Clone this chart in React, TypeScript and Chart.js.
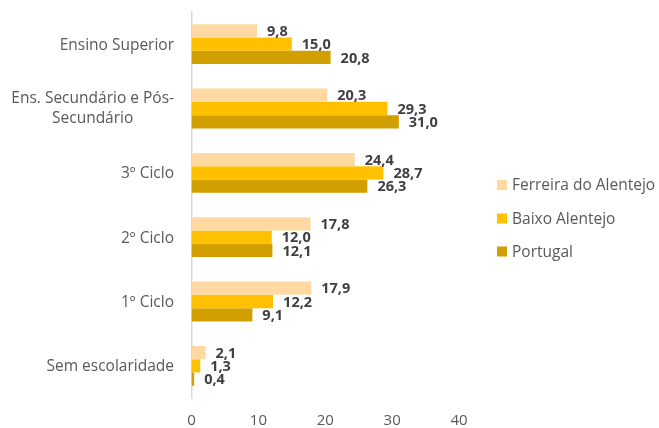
import React, { useEffect, useRef } from "react";
import { Chart, registerables } from "chart.js";

Chart.register(...registerables);

const categories: string[][] = [
  ["Ensino Superior"],
  ["Ens. Secundário e Pós-", "Secundário"],
  ["3º Ciclo"],
  ["2º Ciclo"],
  ["1º Ciclo"],
  ["Sem escolaridade"],
];
const seriesNames = ["Ferreira do Alentejo", "Baixo Alentejo", "Portugal"];
const ferreira = [9.8, 20.3, 24.4, 17.8, 17.9, 2.1];
const baixo = [15.0, 29.3, 28.7, 12.0, 12.2, 1.3];
const portugal = [20.8, 31.0, 26.3, 12.1, 9.1, 0.4];
const colors = ["#FFD9A1", "#FFC000", "#D19F00"];
const xTicks = [0, 10, 20, 30, 40];

const FONT = "'Open Sans', sans-serif";

const drawPlugin = {
  id: "customDraw",
  afterDraw(chart: any) {
    const ctx = chart.ctx;
    const yScale = chart.scales.y;
    ctx.save();
    // category labels
    ctx.font = `15.5px ${FONT}`;
    ctx.fillStyle = "#595959";
    ctx.textBaseline = "middle";
    categories.forEach((lines, i) => {
      const cy = yScale.getPixelForValue(i);
      const right = 174;
      const lh = 20;
      if (lines.length === 1) {
        ctx.textAlign = "right";
        ctx.fillText(lines[0], right, cy + 1);
      } else {
        const maxW = Math.max(...lines.map((l) => ctx.measureText(l).width));
        const cx = right - maxW / 2;
        ctx.textAlign = "center";
        lines.forEach((l, k) => {
          ctx.fillText(l, cx, cy + (k - (lines.length - 1) / 2) * lh);
        });
      }
    });
    // data labels
    ctx.font = `bold 14.5px ${FONT}`;
    ctx.fillStyle = "#404040";
    ctx.textAlign = "left";
    chart.data.datasets.forEach((ds: any, di: number) => {
      const meta = chart.getDatasetMeta(di);
      meta.data.forEach((bar: any, i: number) => {
        const v = ds.data[i] as number;
        ctx.fillText(v.toFixed(1).replace(".", ","), bar.x + 10, bar.y + 1);
      });
    });
    // legend
    ctx.font = `15.5px ${FONT}`;
    const ly = [185, 218.5, 251.5];
    seriesNames.forEach((n, i) => {
      ctx.fillStyle = colors[i];
      ctx.fillRect(497, ly[i] - 5, 10, 10);
      ctx.fillStyle = "#595959";
      ctx.textAlign = "left";
      ctx.fillText(n, 512, ly[i] + 1);
    });
    ctx.restore();
  },
};

export default function App() {
  const ref = useRef<HTMLCanvasElement>(null);
  useEffect(() => {
    if (!ref.current) return;
    const chart = new Chart(ref.current, {
      type: "bar",
      data: {
        labels: categories.map((c) => c.join(" ")),
        datasets: [ferreira, baixo, portugal].map((d, i) => ({
          label: seriesNames[i],
          data: d,
          backgroundColor: colors[i],
          borderWidth: 0,
          categoryPercentage: 0.62,
          barPercentage: 1,
        })),
      },
      options: {
        indexAxis: "y",
        animation: false,
        responsive: false,
        layout: { padding: { left: 191.5, right: 200, top: 12, bottom: 0 } },
        plugins: { legend: { display: false }, tooltip: { enabled: false } },
        scales: {
          x: {
            min: 0,
            max: 40,
            afterBuildTicks: (s: any) => {
              s.ticks = xTicks.map((v) => ({ value: v }));
            },
            afterFit: (s: any) => {
              s.height = 30;
            },
            grid: { display: false, drawTicks: false },
            border: { display: false },
            ticks: {
              padding: 14,
              color: "#595959",
              font: { family: FONT, size: 15 },
            },
          },
          y: {
            grid: { display: false, drawTicks: false },
            border: { display: true, color: "#D9D9D9", width: 1.5 },
            ticks: { display: false },
          },
        },
      },
      plugins: [drawPlugin],
    });
    return () => chart.destroy();
  }, []);
  return (
    <div style={{ position: "fixed", left: 0, top: 0, width: 659, height: 428, background: "#fff" }}>
      <canvas ref={ref} width={659} height={428} style={{ display: "block" }} />
    </div>
  );
}
